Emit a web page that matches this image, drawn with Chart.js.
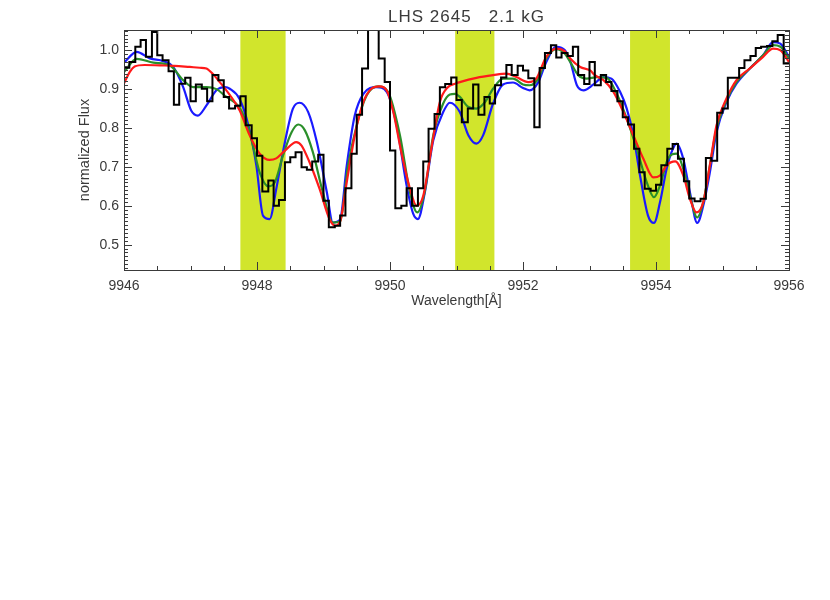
<!DOCTYPE html>
<html>
<head>
<meta charset="utf-8">
<title>LHS 2645 2.1 kG</title>
<script src="https://cdn.jsdelivr.net/npm/chart.js@4.4.1/dist/chart.umd.min.js"></script>
<style>
  html, body { margin: 0; padding: 0; background: #ffffff; }
  #wrap { width: 830px; height: 600px; }
</style>
</head>
<body>
<div id="wrap"><canvas id="spec" width="830" height="600"></canvas></div>
<script>
const plotTitle = 'LHS 2645   2.1 kG';
const xTitle = 'Wavelength[\u00c5]';
const yTitle = 'normalized Flux';

// observed spectrum, bin start wavelengths (last entry closes the last bin)
const obsWave = [
  9946.00, 9946.08, 9946.17, 9946.25, 9946.33, 9946.42, 9946.50, 9946.58, 9946.67, 9946.75, 9946.83, 9946.92,
  9947.00, 9947.08, 9947.17, 9947.25, 9947.33, 9947.42, 9947.50, 9947.58, 9947.67, 9947.75, 9947.83, 9947.92,
  9948.00, 9948.08, 9948.17, 9948.25, 9948.33, 9948.42, 9948.50, 9948.58, 9948.67, 9948.75, 9948.83, 9948.92,
  9949.00, 9949.08, 9949.17, 9949.25, 9949.33, 9949.42, 9949.50, 9949.58, 9949.67, 9949.75, 9949.83, 9949.92,
  9950.00, 9950.08, 9950.17, 9950.25, 9950.33, 9950.42, 9950.50, 9950.58, 9950.67, 9950.75, 9950.83, 9950.92,
  9951.00, 9951.08, 9951.17, 9951.25, 9951.33, 9951.42, 9951.50, 9951.58, 9951.67, 9951.75, 9951.83, 9951.92,
  9952.00, 9952.08, 9952.17, 9952.25, 9952.33, 9952.42, 9952.50, 9952.58, 9952.67, 9952.75, 9952.83, 9952.92,
  9953.00, 9953.08, 9953.17, 9953.25, 9953.33, 9953.42, 9953.50, 9953.58, 9953.67, 9953.75, 9953.83, 9953.92,
  9954.00, 9954.08, 9954.17, 9954.25, 9954.33, 9954.42, 9954.50, 9954.58, 9954.67, 9954.75, 9954.83, 9954.92,
  9955.00, 9955.08, 9955.17, 9955.25, 9955.33, 9955.42, 9955.50, 9955.58, 9955.67, 9955.75, 9955.83, 9955.92,
  9956.00
];
const obsFlux = [
  0.955, 0.970, 1.009, 1.026, 0.983, 1.047, 0.987, 0.974, 0.946, 0.860, 0.914, 0.929,
  0.869, 0.912, 0.901, 0.869, 0.936, 0.923, 0.880, 0.850, 0.857, 0.882, 0.807, 0.774,
  0.729, 0.637, 0.665, 0.600, 0.615, 0.712, 0.725, 0.738, 0.699, 0.693, 0.714, 0.731,
  0.613, 0.545, 0.549, 0.575, 0.645, 0.734, 0.834, 0.953, 1.120, 1.120, 0.979, 0.918,
  0.742, 0.594, 0.600, 0.645, 0.600, 0.645, 0.714, 0.798, 0.836, 0.905, 0.913, 0.930,
  0.872, 0.815, 0.850, 0.912, 0.834, 0.880, 0.863, 0.910, 0.930, 0.962, 0.936, 0.960,
  0.948, 0.928, 0.802, 0.954, 0.993, 1.013, 0.981, 0.993, 0.985, 1.009, 0.936, 0.913,
  0.970, 0.910, 0.936, 0.918, 0.895, 0.869, 0.828, 0.809, 0.747, 0.686, 0.644, 0.639,
  0.654, 0.704, 0.747, 0.759, 0.721, 0.663, 0.619, 0.612, 0.618, 0.723, 0.716, 0.839,
  0.850, 0.929, 0.929, 0.954, 0.974, 0.985, 1.006, 1.009, 1.011, 1.023, 1.039, 0.966
];

// model spectra
const redWave = [
  9946.00, 9946.09, 9946.16, 9946.31, 9946.54, 9946.76, 9946.99, 9947.14, 9947.24, 9947.33, 9947.44, 9947.59,
  9947.74, 9947.89, 9948.04, 9948.19, 9948.29, 9948.42, 9948.59, 9948.67, 9948.79, 9948.94, 9949.09, 9949.17,
  9949.25, 9949.35, 9949.47, 9949.60, 9949.72, 9949.84, 9949.95, 9950.05, 9950.17, 9950.30, 9950.40, 9950.50,
  9950.62, 9950.75, 9950.87, 9950.98, 9951.05, 9951.30, 9951.55, 9951.75, 9951.90, 9952.08, 9952.20, 9952.35,
  9952.50, 9952.63, 9952.71, 9952.86, 9953.01, 9953.08, 9953.21, 9953.36, 9953.51, 9953.66, 9953.81, 9953.96,
  9954.06, 9954.16, 9954.29, 9954.41, 9954.51, 9954.61, 9954.71, 9954.81, 9954.91, 9955.06, 9955.21, 9955.41,
  9955.61, 9955.76, 9955.87, 9956.00
];
const redFlux = [
  0.915, 0.945, 0.958, 0.962, 0.961, 0.960, 0.957, 0.955, 0.953, 0.940, 0.918, 0.885,
  0.845, 0.781, 0.734, 0.718, 0.722, 0.742, 0.764, 0.755, 0.712, 0.644, 0.566, 0.549,
  0.560, 0.661, 0.781, 0.867, 0.901, 0.907, 0.897, 0.841, 0.738, 0.644, 0.600, 0.626,
  0.745, 0.867, 0.905, 0.914, 0.918, 0.929, 0.936, 0.940, 0.931, 0.918, 0.927, 0.983,
  1.004, 0.997, 0.979, 0.957, 0.948, 0.936, 0.923, 0.893, 0.841, 0.781, 0.721, 0.673,
  0.678, 0.704, 0.714, 0.678, 0.618, 0.583, 0.609, 0.704, 0.807, 0.876, 0.923, 0.953,
  0.983, 1.004, 1.000, 0.970
];
const greenWave = [
  9946.00, 9946.19, 9946.44, 9946.69, 9946.89, 9947.04, 9947.24, 9947.39, 9947.54, 9947.67, 9947.74, 9947.89,
  9948.04, 9948.17, 9948.27, 9948.39, 9948.52, 9948.62, 9948.72, 9948.84, 9948.99, 9949.14, 9949.25, 9949.37,
  9949.50, 9949.65, 9949.82, 9949.97, 9950.15, 9950.30, 9950.41, 9950.52, 9950.65, 9950.80, 9950.90, 9950.98,
  9951.05, 9951.18, 9951.30, 9951.43, 9951.55, 9951.70, 9951.85, 9952.00, 9952.10, 9952.23, 9952.35, 9952.50,
  9952.63, 9952.71, 9952.83, 9952.96, 9953.11, 9953.26, 9953.41, 9953.56, 9953.71, 9953.86, 9953.97, 9954.06,
  9954.18, 9954.31, 9954.41, 9954.51, 9954.62, 9954.71, 9954.81, 9954.91, 9955.06, 9955.21, 9955.41, 9955.61,
  9955.76, 9955.87, 9956.00
];
const greenFlux = [
  0.944, 0.978, 0.968, 0.961, 0.923, 0.905, 0.905, 0.900, 0.880, 0.865, 0.852, 0.789,
  0.686, 0.650, 0.661, 0.729, 0.789, 0.809, 0.794, 0.738, 0.635, 0.557, 0.560, 0.704,
  0.807, 0.884, 0.907, 0.893, 0.781, 0.635, 0.583, 0.635, 0.781, 0.863, 0.886, 0.888,
  0.880, 0.854, 0.850, 0.867, 0.901, 0.927, 0.927, 0.912, 0.910, 0.927, 0.979, 1.003,
  0.991, 0.970, 0.936, 0.927, 0.931, 0.929, 0.888, 0.824, 0.747, 0.661, 0.622, 0.652,
  0.721, 0.734, 0.695, 0.626, 0.570, 0.609, 0.704, 0.798, 0.871, 0.918, 0.953, 0.987,
  1.013, 1.009, 0.979
];
const blueWave = [
  9946.00, 9946.19, 9946.39, 9946.59, 9946.74, 9946.89, 9947.01, 9947.11, 9947.24, 9947.39, 9947.52, 9947.59,
  9947.74, 9947.87, 9947.99, 9948.09, 9948.19, 9948.29, 9948.42, 9948.54, 9948.64, 9948.77, 9948.90, 9949.05,
  9949.14, 9949.25, 9949.35, 9949.47, 9949.60, 9949.80, 9949.95, 9950.10, 9950.25, 9950.35, 9950.42, 9950.52,
  9950.65, 9950.80, 9950.90, 9951.05, 9951.18, 9951.30, 9951.40, 9951.55, 9951.70, 9951.85, 9952.00, 9952.10,
  9952.23, 9952.35, 9952.50, 9952.63, 9952.71, 9952.81, 9952.91, 9953.06, 9953.21, 9953.33, 9953.46, 9953.56,
  9953.66, 9953.76, 9953.88, 9953.97, 9954.06, 9954.16, 9954.25, 9954.31, 9954.41, 9954.51, 9954.62, 9954.71,
  9954.81, 9954.91, 9955.06, 9955.21, 9955.41, 9955.61, 9955.76, 9955.87, 9956.00
];
const blueFlux = [
  0.968, 0.996, 0.979, 0.972, 0.957, 0.905, 0.845, 0.832, 0.858, 0.897, 0.905, 0.901,
  0.874, 0.807, 0.704, 0.575, 0.566, 0.644, 0.764, 0.850, 0.865, 0.841, 0.764, 0.635,
  0.557, 0.565, 0.704, 0.832, 0.888, 0.905, 0.893, 0.807, 0.652, 0.579, 0.566, 0.631,
  0.768, 0.841, 0.865, 0.841, 0.781, 0.760, 0.781, 0.863, 0.912, 0.917, 0.903, 0.897,
  0.918, 0.970, 1.009, 1.000, 0.972, 0.910, 0.897, 0.912, 0.931, 0.927, 0.893, 0.850,
  0.781, 0.678, 0.575, 0.556, 0.609, 0.695, 0.745, 0.760, 0.721, 0.635, 0.556, 0.600,
  0.686, 0.789, 0.867, 0.914, 0.953, 0.987, 1.021, 1.017, 0.983
];

// highlighted wavelength windows
const bandStart = [9947.75, 9950.98, 9953.61];
const bandEnd = [9948.43, 9951.57, 9954.21];

const axisColor = '#3a3a3a';
const textFont = "'Liberation Sans', Arial, sans-serif";

function toPoints(xs, ys) {
  return ys.map((y, i) => ({ x: xs[i], y: y }));
}

// repeat the last value so the final bin gets its right edge
const histPoints = toPoints(obsWave, obsFlux.concat([obsFlux[obsFlux.length - 1]]));

// yellow bands behind the spectra
const bandPlugin = {
  id: 'bands',
  beforeDatasetsDraw(chart) {
    const { ctx, chartArea, scales } = chart;
    ctx.save();
    ctx.fillStyle = '#d1e52c';
    bandStart.forEach((s, i) => {
      const x0 = scales.x.getPixelForValue(s);
      const x1 = scales.x.getPixelForValue(bandEnd[i]);
      ctx.fillRect(x0, chartArea.top, x1 - x0, chartArea.bottom - chartArea.top);
    });
    ctx.restore();
  }
};

// IDL style box with inward ticks on all four sides
const framePlugin = {
  id: 'frame',
  afterDatasetsDraw(chart) {
    const { ctx, chartArea: a, scales } = chart;
    ctx.save();
    ctx.strokeStyle = axisColor;
    ctx.lineWidth = 1;
    ctx.beginPath();
    for (let v = 9946; v <= 9956.001; v += 0.5) {
      const px = Math.round(scales.x.getPixelForValue(v)) + 0.5;
      const len = Math.abs(v - Math.round(v / 2) * 2) < 1e-6 ? 8 : 4;
      ctx.moveTo(px, a.bottom); ctx.lineTo(px, a.bottom - len);
      ctx.moveTo(px, a.top); ctx.lineTo(px, a.top + len);
    }
    for (let i = 44; i <= 105; i++) {
      const py = Math.round(scales.y.getPixelForValue(i / 100)) + 0.5;
      const len = i % 10 === 0 ? 8 : 4;
      ctx.moveTo(a.left, py); ctx.lineTo(a.left + len, py);
      ctx.moveTo(a.right, py); ctx.lineTo(a.right - len, py);
    }
    ctx.stroke();
    ctx.strokeRect(Math.round(a.left) + 0.5, Math.round(a.top) + 0.5,
      Math.round(a.right - a.left), Math.round(a.bottom - a.top));
    ctx.restore();
  },
  afterDraw(chart) {
    const { ctx, chartArea: a } = chart;
    ctx.save();
    ctx.fillStyle = axisColor;
    ctx.font = '17px ' + textFont;
    ctx.letterSpacing = '1px';
    ctx.textAlign = 'center';
    ctx.textBaseline = 'alphabetic';
    ctx.fillText(plotTitle, (a.left + a.right) / 2 + 10, 22);
    ctx.restore();
  }
};

const ctx = document.getElementById('spec').getContext('2d');
const chart = new Chart(ctx, {
  type: 'line',
  data: {
    datasets: [
      {
        label: 'observed',
        data: histPoints,
        stepped: 'before',
        borderColor: '#000000',
        borderWidth: 2,
        pointRadius: 0,
        fill: false
      },
      {
        label: 'model 1',
        data: toPoints(redWave, redFlux),
        borderColor: '#ff1a1a',
        borderWidth: 2.2,
        pointRadius: 0,
        cubicInterpolationMode: 'monotone',
        fill: false
      },
      {
        label: 'model 2',
        data: toPoints(greenWave, greenFlux),
        borderColor: '#2a8f2a',
        borderWidth: 2.2,
        pointRadius: 0,
        cubicInterpolationMode: 'monotone',
        fill: false
      },
      {
        label: 'model 3',
        data: toPoints(blueWave, blueFlux),
        borderColor: '#1a1aff',
        borderWidth: 2.2,
        pointRadius: 0,
        cubicInterpolationMode: 'monotone',
        fill: false
      }
    ]
  },
  options: {
    responsive: false,
    animation: false,
    layout: { padding: { top: 30, right: 41, bottom: 290, left: 0 } },
    plugins: {
      legend: { display: false },
      tooltip: { enabled: false }
    },
    scales: {
      x: {
        type: 'linear',
        min: 9946,
        max: 9956,
        afterFit: (scale) => { scale.height = 40; },
        grid: { display: false, drawTicks: false },
        border: { display: false },
        ticks: {
          stepSize: 2,
          padding: 8,
          color: axisColor,
          font: { family: textFont, size: 14 },
          maxRotation: 0,
          callback: (v) => v.toFixed(0)
        },
        title: {
          display: true,
          text: xTitle,
          color: axisColor,
          font: { family: textFont, size: 14 },
          padding: 0
        }
      },
      y: {
        type: 'linear',
        min: 0.435,
        max: 1.052,
        afterFit: (scale) => { scale.width = 124; },
        grid: { display: false, drawTicks: false },
        border: { display: false },
        ticks: {
          stepSize: 0.1,
          includeBounds: false,
          padding: 5,
          color: axisColor,
          font: { family: textFont, size: 14 },
          callback: (v) => v.toFixed(1)
        },
        title: {
          display: true,
          text: yTitle,
          color: axisColor,
          font: { family: textFont, size: 14.5 },
          padding: { top: 76, bottom: 0 }
        }
      }
    }
  },
  plugins: [bandPlugin, framePlugin]
});
</script>
</body>
</html>
